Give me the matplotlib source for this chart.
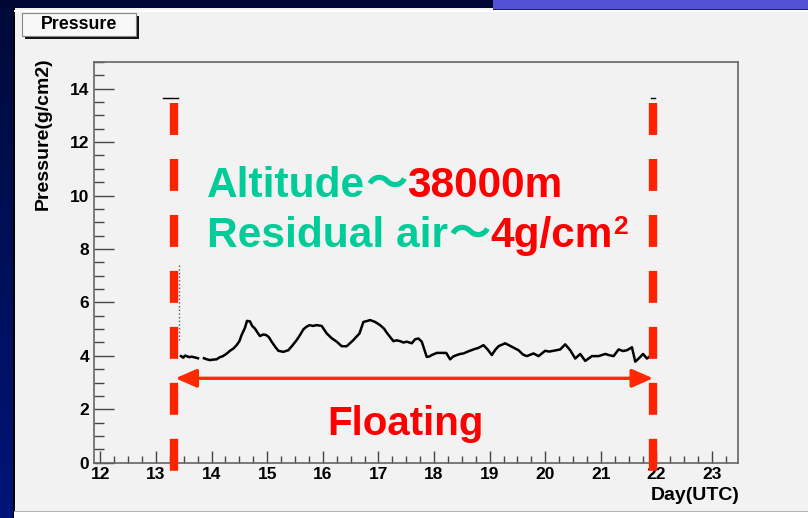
import numpy as np
import matplotlib
matplotlib.use("Agg")
import matplotlib.pyplot as plt
from matplotlib.patches import Rectangle
from matplotlib.ticker import MultipleLocator

plt.rcParams['font.family'] = ['Liberation Sans', 'Noto Sans CJK JP', 'DejaVu Sans']
plt.rcParams['lines.scale_dashes'] = False

# Pressure during the flight (day of month UTC, g/cm2)
day = [13.45, 13.49, 13.52, 13.55, 13.60, 13.64, 13.70, 13.755, np.nan, 13.863,
       13.90, 13.97, 14.03, 14.09, 14.15, 14.205, 14.27, 14.33, 14.39, 14.45,
       14.50, 14.54, 14.60, 14.637, 14.69, 14.73, 14.78, 14.83, 14.87, 14.93,
       14.98, 15.03, 15.08, 15.14, 15.20, 15.29, 15.38, 15.45, 15.53, 15.59,
       15.65, 15.70, 15.76, 15.82, 15.89, 15.98, 16.07, 16.16, 16.25, 16.34,
       16.43, 16.55, 16.66, 16.73, 16.79, 16.85, 16.94, 17.03, 17.10, 17.16,
       17.27, 17.33, 17.39, 17.45, 17.51, 17.60, 17.66, 17.72, 17.78, 17.87,
       17.92, 17.96, 18.05, 18.22, 18.29, 18.35, 18.41, 18.47, 18.53, 18.62,
       18.71, 18.80, 18.89, 18.96, 19.04, 19.10, 19.16, 19.28, 19.40, 19.52,
       19.60, 19.67, 19.79, 19.88, 20.00, 20.07, 20.15, 20.27, 20.36, 20.45,
       20.54, 20.63, 20.72, 20.84, 20.96, 21.08, 21.16, 21.23, 21.32, 21.40,
       21.47, 21.56, 21.62, 21.71, 21.76, 21.83, 21.89]
pressure = [3.99, 3.93, 4.01, 3.99, 3.95, 3.97, 3.94, 3.91, np.nan, 3.91,
            3.88, 3.84, 3.86, 3.87, 3.95, 3.99, 4.08, 4.19, 4.27, 4.40,
            4.55, 4.78, 5.05, 5.31, 5.29, 5.12, 5.02, 4.86, 4.74, 4.80,
            4.78, 4.70, 4.53, 4.35, 4.19, 4.15, 4.21, 4.38, 4.59, 4.78,
            4.99, 5.08, 5.15, 5.12, 5.15, 5.12, 4.84, 4.66, 4.53, 4.36,
            4.36, 4.59, 4.84, 5.27, 5.30, 5.34, 5.27, 5.15, 5.02, 4.84,
            4.55, 4.58, 4.55, 4.50, 4.53, 4.47, 4.62, 4.65, 4.53, 3.96,
            3.98, 4.03, 4.11, 4.11, 3.87, 3.98, 4.03, 4.07, 4.09, 4.17,
            4.24, 4.30, 4.40, 4.25, 4.03, 4.22, 4.36, 4.47, 4.34, 4.21,
            4.05, 3.99, 4.09, 3.99, 4.19, 4.16, 4.19, 4.24, 4.43, 4.21,
            3.90, 4.07, 3.81, 3.99, 3.99, 4.07, 4.02, 3.99, 4.24, 4.18,
            4.21, 4.32, 3.78, 3.96, 4.07, 3.90, 3.99]

# Ascent trace just before floating
ascent_day = [13.41, 13.41, 13.41, 13.41]
ascent_p = [7.39, 6.4, 5.5, 4.58]
top_marks_day = [[13.13, 13.40], [21.91, 21.97]]
top_marks_p = [13.65, 13.65]

launch_day = 13.32
end_day = 21.94
arrow_p = 3.16

fig = plt.figure(figsize=(8.08, 5.18), dpi=100, facecolor='#f2f2f2')


def fx(x):
    return x / 808


def fy(y):
    return 1 - y / 518


# slide border decorations
strip = fig.add_axes([0, 0, fx(13), 1])
grad = np.linspace(0, 1, 256).reshape(-1, 1)
strip.imshow(grad, aspect='auto', cmap=matplotlib.colors.LinearSegmentedColormap.from_list(
    'navy', ['#000a3a', '#001478']), extent=[0, 1, 0, 1])
strip.axis('off')
fig.add_artist(Rectangle((fx(13), 0), fx(1.5), 1, transform=fig.transFigure,
                         color='#000000', lw=0))
fig.add_artist(Rectangle((0, fy(8)), 1, 1 - fy(8), transform=fig.transFigure,
                         color='#000633', lw=0))
fig.add_artist(Rectangle((fx(493), fy(9)), 1, 1 - fy(9), transform=fig.transFigure,
                         color='#5252d6', lw=0))
fig.add_artist(Rectangle((fx(493), fy(10)), 1, fy(9) - fy(10), transform=fig.transFigure,
                         color='#202070', lw=0))
fig.add_artist(Rectangle((fx(14.5), fy(12)), 1, fy(10) - fy(12), transform=fig.transFigure,
                         color='#ffffff', lw=0))
fig.add_artist(Rectangle((fx(14.5), 0), 1, fy(510.5), transform=fig.transFigure,
                         color='#ffffff', lw=0))
fig.add_artist(Rectangle((fx(14.5), fy(512)), 1, fy(510.5) - fy(512), transform=fig.transFigure,
                         color='#b4b4b4', lw=0))

# title box with drop shadow
fig.add_artist(Rectangle((fx(25), fy(39)), fx(114), fy(16) - fy(39), transform=fig.transFigure,
                         color='#111111', lw=0))
fig.add_artist(Rectangle((fx(22), fy(36)), fx(114), fy(13) - fy(36), transform=fig.transFigure,
                         facecolor='#f8f8f8', edgecolor='#888888', lw=0.8))
fig.text(fx(79), fy(24.5), 'Pressure', ha='center', va='center', fontsize=12.8,
         fontweight='bold')

ax = fig.add_axes([fx(94), fy(462.7), fx(737.7 - 94), fy(62) - fy(462.7)])
ax.set_facecolor('none')
ax.set_xlim(11.885, 23.462)
ax.set_ylim(0, 15)

ax.plot(day, pressure, color='black', lw=1.8, zorder=3)
ax.plot(ascent_day, ascent_p, color='#555555', lw=1, ls=':', zorder=3)
for d in top_marks_day:
    ax.plot(d, top_marks_p, color='black', lw=1, zorder=3)

for x in [launch_day, end_day]:
    ax.plot([x, x], [13.46, -0.30], color='#ff2200', lw=6, dashes=(23, 17.3),
            solid_capstyle='butt', dash_capstyle='butt', clip_on=False, zorder=5)

ax.annotate('', xy=(end_day, arrow_p), xytext=(launch_day + 0.03, arrow_p),
            arrowprops=dict(arrowstyle='<|-|>,head_length=0.8,head_width=0.35',
                            mutation_scale=16, color='#ff2a00', lw=2.4,
                            shrinkA=0, shrinkB=0), zorder=4)

ax.text(17.48, 1.04, 'Floating', color='#ff0000', fontsize=29, fontweight='bold',
        ha='center', va='baseline')

green = '#00cc99'
red = '#ff0000'
renderer = fig.canvas.get_renderer()


def text_row(x, y, pieces):
    for s, c, size, dy in pieces:
        t = fig.text(fx(x), fy(y - dy), s, color=c, fontsize=size, fontweight='bold',
                     ha='left', va='baseline')
        bb = t.get_window_extent(renderer=renderer)
        x = bb.x1


text_row(207, 197, [('Altitude', green, 30.5, 0), ('～', green, 30.5, 0),
                    ('38000m', red, 30.5, 0)])
text_row(207, 247, [('Residual air', green, 30.5, 0), ('～', green, 30.5, 0),
                    ('4g/cm', red, 30.5, 0), ('2', red, 19, 13)])

ax.xaxis.set_major_locator(MultipleLocator(1))
ax.xaxis.set_minor_locator(MultipleLocator(0.25))
ax.yaxis.set_major_locator(MultipleLocator(2))
ax.yaxis.set_minor_locator(MultipleLocator(0.5))
ax.tick_params(axis='x', which='major', direction='in', length=8.4, width=1,
               color='#444444', pad=3, labelsize=12.5)
ax.tick_params(axis='x', which='minor', direction='in', length=4.8, width=1,
               color='#444444')
ax.tick_params(axis='y', which='major', direction='in', length=14.4, width=1,
               color='#444444', pad=3.5, labelsize=12.5)
ax.tick_params(axis='y', which='minor', direction='in', length=7.2, width=1,
               color='#444444')
for lab in ax.get_xticklabels() + ax.get_yticklabels():
    lab.set_fontweight('bold')
for sp in ax.spines.values():
    sp.set_color('#666666')
    sp.set_linewidth(1.2)

fig.text(fx(43), fy(57), 'Pressure(g/cm2)', rotation=90, ha='center', va='top',
         fontsize=14, fontweight='bold')
fig.text(fx(740), fy(495), 'Day(UTC)', ha='right', va='center', fontsize=14,
         fontweight='bold')

fig.savefig('out.png', dpi=100, facecolor=fig.get_facecolor())
